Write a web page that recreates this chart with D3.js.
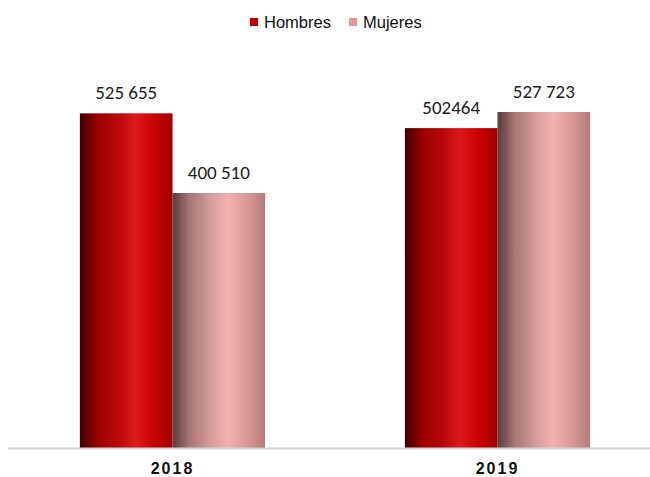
<!DOCTYPE html>
<html>
<head>
<meta charset="utf-8">
<script src="https://cdn.jsdelivr.net/npm/d3@7"></script>
<style>
  body { margin: 0; background: #fff; }
  svg { display: block; }
</style>
</head>
<body>
<script>
// data
const years = ["2018", "2019"];
const seriesNames = ["Hombres", "Mujeres"];
const hombres = [525655, 502464];
const mujeres = [400510, 527723];
const valueLabels = [["525 655", "400 510"], ["502464", "527 723"]];

const width = 650, height = 477,
      baseY = 448, topY = 66;

const svg = d3.select("body").append("svg")
  .attr("width", width).attr("height", height);

// gradients
const defs = svg.append("defs");
const gradStops = {
  Hombres: [[0, "#3e0000"], [0.18, "#9a0000"], [0.4, "#b80808"], [0.6, "#dc1a1a"], [0.78, "#cc0404"], [1, "#a00000"]],
  Mujeres: [[0, "#5a3c3c"], [0.18, "#a87474"], [0.4, "#d39a9a"], [0.6, "#f3b0b0"], [0.8, "#dc9898"], [1, "#b47c7c"]]
};
seriesNames.forEach(name => {
  const g = defs.append("linearGradient").attr("id", "grad-" + name)
    .attr("x1", "0%").attr("x2", "100%").attr("y1", "0%").attr("y2", "0%");
  gradStops[name].forEach(s => g.append("stop").attr("offset", s[0]).attr("stop-color", s[1]));
});

const x0 = d3.scaleBand().domain(years).range([10, 660]).paddingInner(0.43).paddingOuter(0.215);
const x1 = d3.scaleBand().domain(seriesNames).range([0, x0.bandwidth()]);
const y = d3.scaleLinear().domain([0, 600000]).range([baseY, topY]);

const rows = years.map((yr, i) => ({ year: yr, i, values: [hombres[i], mujeres[i]] }));

const groups = svg.selectAll("g.year").data(rows).enter().append("g")
  .attr("class", "year")
  .attr("transform", d => `translate(${x0(d.year)},0)`);

groups.selectAll("rect")
  .data(d => d.values.map((v, j) => ({ v, name: seriesNames[j], label: valueLabels[d.i][j] })))
  .enter().append("rect")
  .attr("x", d => x1(d.name))
  .attr("width", x1.bandwidth())
  .attr("y", d => y(d.v))
  .attr("height", d => baseY - y(d.v))
  .attr("fill", d => `url(#grad-${d.name})`);

groups.selectAll("text.val")
  .data(d => d.values.map((v, j) => ({ v, name: seriesNames[j], label: valueLabels[d.i][j] })))
  .enter().append("text")
  .attr("class", "val")
  .attr("x", d => x1(d.name) + x1.bandwidth() / 2)
  .attr("y", d => y(d.v) - 14)
  .attr("text-anchor", "middle")
  .attr("font-family", "Carlito, 'Open Sans', 'Liberation Sans', sans-serif")
  .attr("font-size", 19)
  .attr("fill", "#222")
  .text(d => d.label);

// axis line
svg.append("line")
  .attr("x1", 8).attr("x2", width)
  .attr("y1", baseY + 0.5).attr("y2", baseY + 0.5)
  .attr("stroke", "#d4d4d4").attr("stroke-width", 2);

// year labels
svg.selectAll("text.yr").data(years).enter().append("text")
  .attr("class", "yr")
  .attr("x", d => x0(d) + x0.bandwidth() / 2)
  .attr("y", 474)
  .attr("text-anchor", "middle")
  .attr("font-family", "'Liberation Sans', Arial, sans-serif")
  .attr("font-weight", "bold")
  .attr("font-size", 16)
  .attr("letter-spacing", 2)
  .attr("fill", "#111")
  .text(d => d);

// legend
const legendColors = { Hombres: "#c00000", Mujeres: "#e09a9a" };
const legendX = [250, 349];
const legend = svg.selectAll("g.leg").data(seriesNames).enter().append("g")
  .attr("class", "leg")
  .attr("transform", (d, i) => `translate(${legendX[i]},18)`);
legend.append("rect").attr("width", 8).attr("height", 8).attr("fill", d => legendColors[d]);
legend.append("text")
  .attr("x", 14).attr("y", 10)
  .attr("font-family", "'Liberation Sans', Arial, sans-serif")
  .attr("font-size", 16.5)
  .attr("fill", "#111")
  .text(d => d);
</script>
</body>
</html>
